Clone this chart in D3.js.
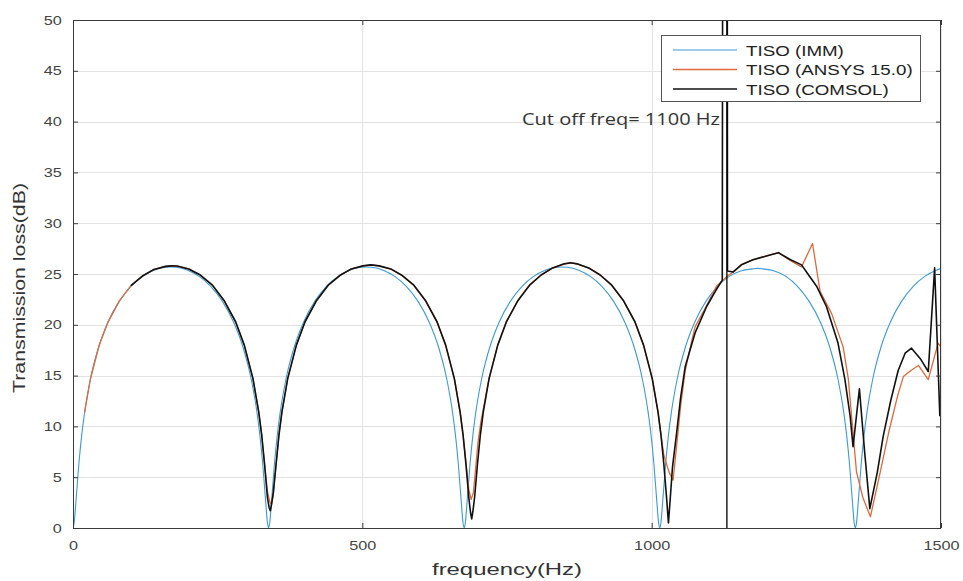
<!DOCTYPE html>
<html><head><meta charset="utf-8">
<script src="https://cdn.jsdelivr.net/npm/d3@7"></script>
<style>body{margin:0;background:#fff}</style>
</head><body>
<svg id="c" width="963" height="581"></svg>
<script>
// ---------- data ----------
const xTicks = [0, 500, 1000, 1500];
const yTicks = [0, 5, 10, 15, 20, 25, 30, 35, 40, 45, 50];
const seriesNames = ["TISO (IMM)", "TISO (ANSYS 15.0)", "TISO (COMSOL)"];
const xLabel = "frequency(Hz)";
const yLabel = "Transmission loss(dB)";
const cutoffFreq = 1130;
const cutoffLabel = "Cut off freq= 1100 Hz";

const immFreq = [0,2,5,10,15,20,30,45,60,80,100,120,140,160,169,178,198,218,238,258,278,293,308,318,323,328,333,336,338,
 340,343,348,353,358,368,383,398,418,438,458,478,498,507,516,536,556,576,596,616,631,646,656,661,666,671,674,676,
 678,681,686,691,696,706,721,736,756,776,796,816,836,845,854,874,894,914,934,954,969,984,994,999,1004,1009,1012,1014,
 1016,1019,1024,1029,1034,1044,1059,1074,1094,1114,1134,1154,1174,1183,1192,1212,1232,1252,1272,1292,1307,1322,1332,1337,1342,1347,1350,1352,
 1354,1357,1362,1367,1372,1382,1397,1412,1432,1452,1472,1492,1500];
const immTL = [0,0.52,2.55,6.23,9.12,11.36,14.64,17.94,20.21,22.33,23.79,24.77,25.38,25.66,25.69,25.66,25.38,24.77,23.79,22.33,20.21,17.94,14.64,11.36,9.12,6.23,2.55,0.52,0,
 0.52,2.55,6.23,9.12,11.36,14.64,17.94,20.21,22.33,23.79,24.77,25.38,25.66,25.69,25.66,25.38,24.77,23.79,22.33,20.21,17.94,14.64,11.36,9.12,6.23,2.55,0.52,0,
 0.52,2.55,6.23,9.12,11.36,14.64,17.94,20.21,22.33,23.79,24.77,25.38,25.66,25.69,25.66,25.38,24.77,23.79,22.33,20.21,17.94,14.64,11.36,9.12,6.23,2.55,0.52,0,
 0.52,2.55,6.23,9.12,11.36,14.64,17.94,20.21,22.33,23.79,24.77,25.3,25.5,25.55,25.5,25.3,24.77,23.79,22.33,20.21,17.94,14.64,11.36,9.12,6.23,2.55,0.52,0,
 0.52,2.55,6.23,9.12,11.36,14.64,17.94,20.21,22.33,23.79,24.77,25.38,25.53];

const ansysFreq = [20,30,45,60,80,100,120,140,160,170,180,200,220,241,261,281,296,311,321,326,331,336,340,343,346,351,356,361,371,386,401,421,441,461,481,501,515,529,549,569,589,609,629,644,659,669,674,679,684,688,692,696,700,705,710,719,734,749,769,789,809,829,849,860,871,891,911,931,951,971,986,1001,1011,1016,1021,1030,1037,1043,1050,1058,1066,1075,1095,1112,1131,1141,1155,1175,1200,1219,1240,1259,1278,1291,1311,1331,1340,1347,1354,1365,1378,1395,1410,1425,1435,1448,1461,1478,1495,1500];
const ansysTL = [11.36,14.64,17.94,20.21,22.33,23.85,24.8,25.45,25.75,25.8,25.78,25.5,24.9,23.9,22.4,20.3,18.0,14.7,11.4,9.2,6.3,3.6,2.6,2.3,3.2,6.3,9.2,11.4,14.7,18.0,20.3,22.4,23.9,24.85,25.5,25.8,25.9,25.8,25.5,24.85,23.9,22.4,20.3,18.0,14.7,11.4,9.2,6.5,3.8,2.8,3.5,6.0,8.5,10.5,12.0,14.7,18.0,20.3,22.4,23.9,24.9,25.6,26.0,26.1,26.0,25.6,24.9,23.9,22.4,20.3,18.0,14.7,11.4,9.2,7.2,5.5,4.7,8.0,12.0,15.5,17.6,19.8,21.9,23.8,24.8,25.2,25.9,26.4,26.8,27.1,26.3,25.7,28.0,23.3,21.1,17.8,14.6,10.0,5.5,3.0,1.1,5.5,9.5,13.0,14.9,15.5,16.0,14.6,18.2,17.8];

const comsolFreq = [100,120,140,160,170,180,200,220,241,261,281,296,311,321,326,331,336,339,341,343,346,351,356,361,371,386,401,421,441,461,481,501,515,529,549,569,589,609,629,644,659,669,674,679,684,687,689,691,694,699,704,709,719,734,749,769,789,809,829,849,860,871,891,911,931,951,971,986,1001,1011,1016,1021,1026,1029,1032,1036,1043,1050,1058,1075,1095,1110,1122,1124,1130,1131,1141,1155,1175,1200,1219,1240,1259,1270,1285,1302,1322,1334,1343,1348,1359,1368,1377,1390,1400,1413,1426,1438,1449,1465,1478,1489,1498];
const comsolTL = [23.85,24.8,25.45,25.75,25.8,25.78,25.5,24.9,23.9,22.4,20.3,18.0,14.7,11.4,9.2,6.3,3.0,2.0,1.7,2.3,3.4,6.3,9.2,11.4,14.7,18.0,20.3,22.4,23.9,24.85,25.5,25.8,25.9,25.8,25.5,24.85,23.9,22.4,20.3,18.0,14.7,11.4,9.2,6.3,3.0,1.5,0.9,1.6,3.0,6.3,9.2,11.4,14.7,18.0,20.3,22.4,23.9,24.9,25.6,26.0,26.1,26.0,25.6,24.9,23.9,22.4,20.3,18.0,14.7,11.4,9.2,6.3,2.8,0.5,2.8,6.0,9.3,12.8,15.9,19.2,21.8,23.3,24.4,120,120,25.3,25.2,25.9,26.4,26.8,27.1,26.4,25.9,25.0,23.8,21.8,18.2,14.6,11.0,8.0,13.7,7.5,1.9,5.5,9.0,12.5,15.5,17.2,17.7,16.6,15.4,25.6,11.0];

// ---------- chart ----------
const svg = d3.select("#c");
const L = 73, R = 941, T = 20, B = 528;
const SX = 1.25;           // horizontal text stretch seen in the reference
const FONT = "'Liberation Sans', Arial, Helvetica, sans-serif";
const x = d3.scaleLinear().domain([0, 1500]).range([L, R]);
const y = d3.scaleLinear().domain([0, 50]).range([B, T]);

svg.append("rect").attr("x",0).attr("y",0).attr("width",963).attr("height",581).attr("fill","#fff");

// grid
const grid = svg.append("g").attr("stroke","#e3e3e3").attr("stroke-width",1);
yTicks.forEach(v => grid.append("line").attr("x1",L).attr("x2",R).attr("y1",Math.round(y(v))+0.5).attr("y2",Math.round(y(v))+0.5));
xTicks.forEach(v => grid.append("line").attr("y1",T).attr("y2",B).attr("x1",Math.round(x(v))+0.5).attr("x2",Math.round(x(v))+0.5));

// clip
svg.append("clipPath").attr("id","clip").append("rect").attr("x",L).attr("y",T).attr("width",R-L).attr("height",B-T);

const plot = svg.append("g").attr("clip-path","url(#clip)");
const colors = ["#3d9ad6", "#dd6a3c", "#111"];
const widths = [1.1, 1.3, 1.6];
const curves = [d3.curveMonotoneX, d3.curveLinear, d3.curveLinear];
const data = [
  d3.zip(immFreq, immTL),
  d3.zip(ansysFreq, ansysTL),
  d3.zip(comsolFreq, comsolTL)
];
data.forEach((d, i) => plot.append("path").datum(d)
  .attr("d", d3.line().x(p => x(p[0])).y(p => y(p[1])).curve(curves[i]))
  .attr("fill","none").attr("stroke", colors[i]).attr("stroke-width", widths[i]).attr("stroke-linejoin","round"));

// cut-off line
plot.append("line").attr("x1",x(cutoffFreq)).attr("x2",x(cutoffFreq)).attr("y1",y(0)).attr("y2",y(50))
  .attr("stroke","#000").attr("stroke-width",1.3);

// axes
const axCol = "#3a3a3a";
function styleAxis(g){
  g.select(".domain").remove();
  g.selectAll(".tick line").attr("stroke",axCol);
  g.selectAll("text").attr("fill","#444").attr("font-family",FONT).attr("font-size",13);
}
const gx = svg.append("g").attr("transform",`translate(0,${B})`)
  .call(d3.axisBottom(x).tickValues(xTicks).tickFormat(d3.format("d")).tickSizeInner(-5).tickSizeOuter(0).tickPadding(13));
styleAxis(gx);
gx.selectAll("text").attr("transform",`scale(${SX},1)`);
const gxt = svg.append("g").attr("transform",`translate(0,${T})`)
  .call(d3.axisTop(x).tickValues(xTicks).tickSizeInner(-5).tickSizeOuter(0).tickFormat(""));
styleAxis(gxt);
const gy = svg.append("g").attr("transform",`translate(${L},0)`)
  .call(d3.axisLeft(y).tickValues(yTicks).tickFormat(d3.format("d")).tickSizeInner(-5).tickSizeOuter(0).tickPadding(9));
styleAxis(gy);
gy.selectAll("text").attr("transform",`scale(${SX},1)`);
const gyr = svg.append("g").attr("transform",`translate(${R},0)`)
  .call(d3.axisRight(y).tickValues(yTicks).tickSizeInner(-5).tickSizeOuter(0).tickFormat(""));
styleAxis(gyr);

// box
svg.append("rect").attr("x",L+0.5).attr("y",T+0.5).attr("width",R-L-1).attr("height",B-T)
  .attr("fill","none").attr("stroke",axCol).attr("stroke-width",1);

// axis labels
svg.append("text").attr("x",(L+R)/2).attr("y",575)
  .attr("text-anchor","middle").attr("font-family",FONT).attr("font-size",17).attr("fill","#333")
  .attr("textLength",150).attr("lengthAdjust","spacingAndGlyphs").text(xLabel);
svg.append("text").attr("transform",`translate(25,288) rotate(-90)`)
  .attr("text-anchor","middle").attr("font-family",FONT).attr("font-size",16).attr("fill","#333")
  .attr("textLength",210).attr("lengthAdjust","spacingAndGlyphs").text(yLabel);

// cut-off annotation
svg.append("text").attr("transform",`translate(522,125) scale(${SX},1)`)
  .attr("font-family","'Open Sans', sans-serif").attr("font-size",16).attr("fill","#333").text(cutoffLabel);

// legend
const lg = svg.append("g");
lg.append("rect").attr("x",661.5).attr("y",35.5).attr("width",259).attr("height",66)
  .attr("fill","#fff").attr("stroke","#555").attr("stroke-width",1);
const rowY = [50, 69.5, 89];
seriesNames.forEach((n, i) => {
  lg.append("line").attr("x1",673).attr("x2",737).attr("y1",rowY[i]).attr("y2",rowY[i])
    .attr("stroke",colors[i]).attr("stroke-width",widths[i]);
  lg.append("text").attr("transform",`translate(746,${rowY[i]+5.5}) scale(${SX},1)`)
    .attr("font-family",FONT).attr("font-size",15).attr("fill","#222").text(n);
});
</script>
</body></html>
